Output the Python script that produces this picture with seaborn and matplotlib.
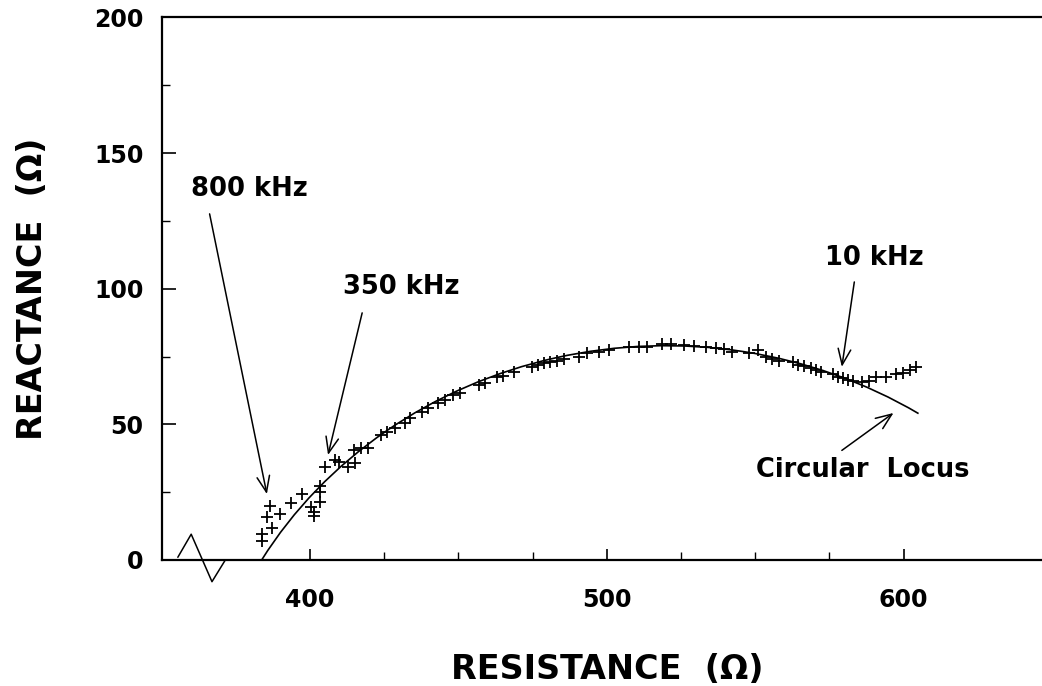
import numpy as np
import pandas as pd
import matplotlib
matplotlib.use("Agg")
import matplotlib.pyplot as plt
from matplotlib.patches import Arc
import seaborn as sns

# Measured impedance spectrum (resistance, reactance) in ohms
resistance = [
    383.9, 383.9, 387.2, 385.5, 389.8, 386.4, 393.5, 397.3, 400.4, 401.3,
    401.3, 403.3, 403.3, 403.3, 405.0, 408.3, 409.7, 412.8, 415.1, 414.9,
    417.3, 419.6, 424.1, 425.8, 428.6, 432.0, 433.7, 437.6, 439.9, 443.2,
    445.5, 448.3, 450.6, 456.8, 459.0, 462.9, 465.2, 468.6, 474.8, 477.0,
    478.7, 481.0, 483.2, 485.5, 490.5, 493.3, 497.3, 500.7, 507.4, 510.8,
    513.6, 518.7, 521.5, 526.0, 529.4, 533.3, 536.7, 539.5, 542.3, 548.0,
    550.8, 553.6, 555.8, 558.1, 562.6, 564.3, 566.6, 568.8, 570.5, 572.2,
    576.1, 577.8, 579.5, 581.2, 582.9, 586.0, 588.5, 590.8, 594.1, 597.5,
    599.7, 602.0, 604.3,
]
reactance = [
    7.0, 9.4, 11.9, 15.7, 16.8, 20.0, 20.9, 24.2, 19.6, 17.8,
    16.2, 21.5, 25.2, 27.3, 34.2, 36.9, 36.0, 34.2, 35.7, 40.6,
    41.2, 41.2, 46.1, 47.3, 48.6, 50.6, 52.2, 54.7, 55.9, 57.8,
    59.0, 60.8, 61.4, 64.5, 65.4, 67.6, 67.8, 69.4, 71.3, 71.9,
    72.7, 73.1, 73.5, 74.0, 74.9, 76.2, 76.8, 77.4, 78.6, 78.4,
    78.6, 79.6, 79.6, 79.3, 78.9, 78.4, 78.0, 77.7, 76.8, 76.2,
    77.4, 74.9, 74.0, 73.5, 73.1, 71.9, 71.5, 70.7, 70.0, 69.4,
    68.6, 67.6, 67.0, 66.4, 66.0, 65.6, 66.1, 67.6, 67.6, 68.6,
    69.1, 70.0, 71.3,
]

# Fitted circular locus: centre, radius and angular extent (degrees)
locus_center = (520.0, -78.0)
locus_radius = 157.0
locus_theta = (57.2, 150.2)

# Frequency annotations: text, text anchor, arrow start, arrow tip
label_texts = ["800 kHz", "350 kHz", "10 kHz", "Circular  Locus"]
label_xy = [(359.8, 136.8), (411.1, 100.6), (573.6, 111.3), (550.3, 33.2)]
arrow_start = [(366.2, 127.6), (417.6, 91.1), (583.4, 102.5), (579.2, 40.4)]
arrow_tip = [(385.5, 24.3), (406.1, 38.7), (579.2, 71.2), (596.6, 54.2)]

# Axis break zig-zag on the resistance axis
break_x = [355.5, 360.0, 367.0, 371.5]
break_y = [1.0, 9.5, -8.0, 0.0]

x_major = [400, 500, 600]
x_minor = [425, 450, 475, 525, 550, 575]
y_major = [0, 50, 100, 150, 200]
y_minor = [25, 75, 125, 175]

sns.set_theme(style="white")
plt.rcParams["font.family"] = ["DejaVu Sans"]
plt.rcParams["font.weight"] = "bold"

fig = plt.figure(figsize=(10.42, 6.86), dpi=100)
ax = fig.add_axes([0.155, 0.1837, 0.8546, 0.7908])

df = pd.DataFrame({"R": resistance, "X": reactance})
sns.scatterplot(data=df, x="R", y="X", marker="+", s=75, color="black",
                linewidth=1.3, ax=ax, zorder=3)

arc = Arc(locus_center, 2 * locus_radius, 2 * locus_radius,
          theta1=locus_theta[0], theta2=locus_theta[1],
          color="black", lw=1.2, zorder=2)
ax.add_patch(arc)

ax.plot(break_x, break_y, color="black", lw=1.1, clip_on=False, zorder=4)

for txt, pos, a0, a1 in zip(label_texts, label_xy, arrow_start, arrow_tip):
    ax.text(pos[0], pos[1], txt, fontsize=18.5, fontweight="bold",
            ha="left", va="center", color="black")
    ax.annotate("", xy=a1, xytext=a0,
                arrowprops=dict(arrowstyle="->,head_length=0.6,head_width=0.24",
                                color="black", lw=1.1, shrinkA=0, shrinkB=0,
                                mutation_scale=19))

ax.set_xlim(350, 650)
ax.set_ylim(0, 200)
ax.set_xticks(x_major)
ax.set_xticks(x_minor, minor=True)
ax.set_yticks(y_major)
ax.set_yticks(y_minor, minor=True)
ax.tick_params(which="both", bottom=True, left=True, top=False, right=False)
ax.tick_params(which="major", direction="in", width=1.2,
               labelsize=17, color="black", labelcolor="black")
ax.tick_params(which="minor", direction="in", length=6, width=1.0,
               color="black")
ax.tick_params(axis="x", which="major", length=8, pad=20)
ax.tick_params(axis="y", which="major", length=10, pad=13)
for lab in ax.get_xticklabels() + ax.get_yticklabels():
    lab.set_fontweight("bold")

for side in ["left", "bottom", "top"]:
    ax.spines[side].set_visible(True)
    ax.spines[side].set_color("black")
    ax.spines[side].set_linewidth(1.6)
ax.spines["right"].set_visible(False)

ax.set_xlabel("RESISTANCE  (\u03a9)", fontsize=24, fontweight="bold", color="black")
ax.set_ylabel("REACTANCE  (\u03a9)", fontsize=24, fontweight="bold", color="black")
ax.xaxis.set_label_coords(0.5, -0.201)
ax.xaxis.label.set_va("center")
ax.yaxis.set_label_coords(-0.1454, 0.5)
ax.yaxis.label.set_va("center")

ax.grid(False)
fig.savefig("out.png", dpi=100, facecolor="white")
